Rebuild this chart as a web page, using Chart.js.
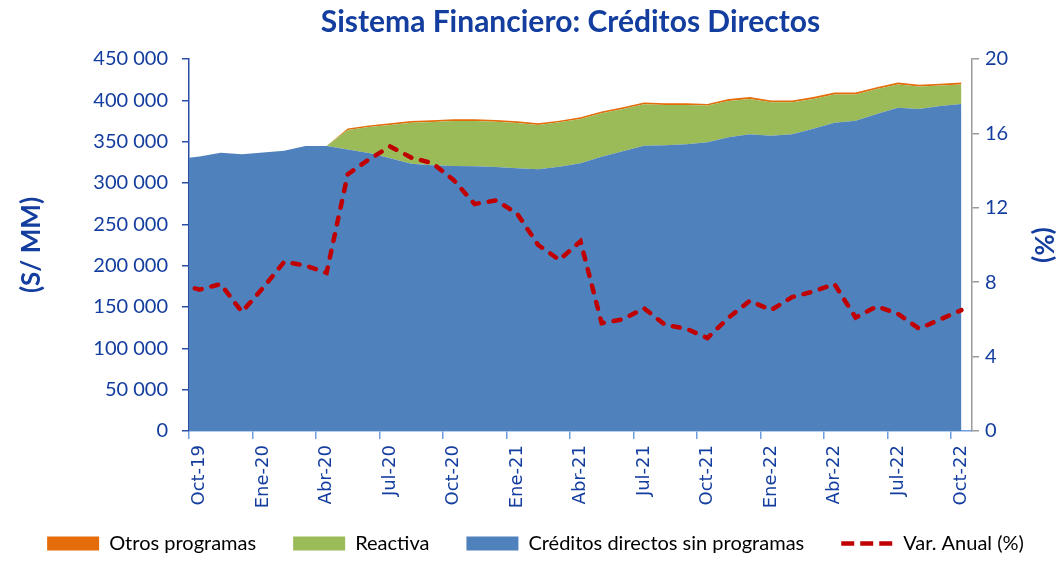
<!DOCTYPE html>
<html>
<head>
<meta charset="utf-8">
<script src="https://cdn.jsdelivr.net/npm/chart.js@4.4.0/dist/chart.umd.min.js"></script>
<style>
  html, body { margin: 0; padding: 0; background: #ffffff; }
  #wrap { width: 1063px; height: 572px; position: relative; }
</style>
</head>
<body>
<div id="wrap"><canvas id="c" width="1063" height="572"></canvas></div>
<script>
// ---- Data (S/ MM and %) ----
const months = ['Sep-19',
  'Oct-19','Nov-19','Dic-19','Ene-20','Feb-20','Mar-20','Abr-20','May-20','Jun-20','Jul-20','Ago-20','Sep-20',
  'Oct-20','Nov-20','Dic-20','Ene-21','Feb-21','Mar-21','Abr-21','May-21','Jun-21','Jul-21','Ago-21','Sep-21',
  'Oct-21','Nov-21','Dic-21','Ene-22','Feb-22','Mar-22','Abr-22','May-22','Jun-22','Jul-22','Ago-22','Sep-22',
  'Oct-22'];

const creditosSinProgramas = [329000,
  332000, 336500, 334700, 336900, 339000, 344800, 344800, 340500, 336300, 329900, 323400, 321400,
  320600, 320200, 319400, 317800, 316600, 319700, 323800, 331800, 338400, 345100, 345600, 346800,
  349200, 355300, 358900, 357200, 358900, 365700, 373000, 375400, 383500, 391100, 389500, 393200,
  395600];

const reactiva = [0,
  0, 0, 0, 0, 0, 0, 0, 23700, 31500, 40300, 49600, 52500,
  54500, 54900, 54800, 54800, 53600, 53700, 53700, 52500, 51200, 50100, 48800, 47600,
  44400, 44000, 42800, 40400, 38700, 36000, 34200, 31800, 30200, 28200, 27100, 24600,
  23700];

const otrosProgramas = [0,
  0, 0, 0, 0, 0, 0, 0, 1800, 1900, 2000, 2000, 2000,
  2000, 2000, 2000, 2000, 2000, 2000, 2000, 2100, 2100, 2100, 2100, 2100,
  2100, 2200, 2200, 2200, 2200, 2200, 2200, 2200, 2200, 2200, 2200, 2200,
  2200];

const varAnual = [7.9,
  7.6, 7.9, 6.4, 7.7, 9.1, 8.9, 8.5, 13.8, 14.6, 15.3, 14.7, 14.4,
  13.5, 12.2, 12.4, 11.7, 10.0, 9.2, 10.2, 5.8, 6.0, 6.6, 5.7, 5.5,
  5.0, 6.1, 7.0, 6.5, 7.2, 7.5, 7.9, 6.1, 6.7, 6.3, 5.5, 6.0,
  6.5];

const xTickLabels = ['Oct-19','Ene-20','Abr-20','Jul-20','Oct-20','Ene-21','Abr-21','Jul-21','Oct-21','Ene-22','Abr-22','Jul-22','Oct-22'];
const seriesNames = ['Otros programas', 'Reactiva', 'Créditos directos sin programas', 'Var. Anual (%)'];

// ---- Styles ----
const TXT = '#133d9e';
const C_BLUE = '#4f81bd', C_GREEN = '#9bbb59', C_ORANGE = '#e46c0a', C_RED = '#c00000';

// x position: Oct-19 = 0 (Sep-19 = -1, partially before the axis start)
const toPts = arr => arr.map((v, i) => ({ x: i - 1, y: v }));

const fmt = v => String(v).replace(/\B(?=(\d{3})+(?!\d))/g, ' ');

// place the legend row lower than its layout box (box keeps x-axis labels unclipped),
// and centre the title like the reference
const boxPlace = {
  id: 'boxPlace',
  beforeDraw(chart) {
    const lg = chart.legend;
    if (lg) {
      lg.top = 496.5;
      lg.bottom = 572;
      lg.left = 4;
      lg.right = 1067;
    }
    const tb = chart.titleBlock;
    if (tb) {
      tb.left = 169;
      tb.right = 972;
    }
  }
};

const ctx = document.getElementById('c').getContext('2d');
new Chart(ctx, {
  type: 'line',
  plugins: [boxPlace],
  data: {
    datasets: [
      { label: seriesNames[3], data: toPts(varAnual), yAxisID: 'y1', order: 0,
        borderColor: C_RED, borderWidth: 4.5, borderDash: [7, 10], borderCapStyle: 'round',
        pointRadius: 0, fill: false, tension: 0, clip: 0 },
      { label: seriesNames[2], data: toPts(creditosSinProgramas), yAxisID: 'y', order: 1,
        backgroundColor: C_BLUE, borderColor: 'rgba(0,0,0,0)', borderWidth: 1,
        pointRadius: 0, fill: 'origin', tension: 0, stack: 'a' },
      { label: seriesNames[1], data: toPts(reactiva), yAxisID: 'y', order: 1,
        backgroundColor: C_GREEN, borderColor: 'rgba(0,0,0,0)', borderWidth: 1,
        pointRadius: 0, fill: '-1', tension: 0, stack: 'a' },
      { label: seriesNames[0], data: toPts(otrosProgramas), yAxisID: 'y', order: 1,
        backgroundColor: C_ORANGE, borderColor: 'rgba(0,0,0,0)', borderWidth: 1,
        pointRadius: 0, fill: '-1', tension: 0, stack: 'a' }
    ]
  },
  options: {
    responsive: false,
    animation: false,
    events: [],
    layout: { padding: { left: 0, right: 0, top: 0, bottom: 0 } },
    plugins: {
      tooltip: { enabled: false },
      title: {
        display: true,
        fullSize: false,
        text: 'Sistema Financiero: Créditos Directos',
        color: TXT,
        font: { family: 'Lato', size: 30, weight: 'bold' },
        padding: { top: 4, bottom: 19 }
      },
      legend: {
        position: 'bottom',
        maxHeight: 50,
        labels: {
          usePointStyle: true,
          pointStyleWidth: 52,
          boxHeight: 14,
          padding: 37,
          color: TXT,
          font: { family: 'Lato', size: 20 },
          generateLabels: () => [
            { text: seriesNames[0], fillStyle: C_ORANGE, strokeStyle: C_ORANGE, lineWidth: 0, pointStyle: 'rect', hidden: false, datasetIndex: 3 },
            { text: seriesNames[1], fillStyle: C_GREEN, strokeStyle: C_GREEN, lineWidth: 0, pointStyle: 'rect', hidden: false, datasetIndex: 2 },
            { text: seriesNames[2], fillStyle: C_BLUE, strokeStyle: C_BLUE, lineWidth: 0, pointStyle: 'rect', hidden: false, datasetIndex: 1 },
            { text: seriesNames[3], fillStyle: C_RED, strokeStyle: C_RED, lineWidth: 4.5, lineDash: [13, 6], lineCap: 'butt', pointStyle: 'line', hidden: false, datasetIndex: 0 }
          ]
        }
      }
    },
    scales: {
      x: {
        type: 'linear',
        min: -0.5,
        max: 36.5,
        afterFit: s => { s.height = 91; },
        afterBuildTicks: s => { s.ticks = xTickLabels.map((_, k) => ({ value: 3 * k - 0.5 })); },
        border: { display: true, color: '#6d9ee0', width: 1.5 },
        grid: { display: true, drawOnChartArea: false, drawTicks: true, tickLength: 8, color: '#6d9ee0', lineWidth: 1.5 },
        ticks: {
          autoSkip: false,
          minRotation: 90,
          maxRotation: 90,
          labelOffset: 10.6,
          padding: 6,
          color: TXT,
          font: { family: 'DejaVu Sans', size: 18 },
          callback: v => xTickLabels[Math.round((v + 0.5) / 3)]
        }
      },
      y: {
        position: 'left',
        stacked: true,
        min: 0,
        max: 450000,
        afterFit: s => { s.width = 189; },
        border: { display: true, color: '#2a4ea6', width: 1.5 },
        grid: { display: true, drawOnChartArea: false, drawTicks: true, tickLength: 7, color: '#2a4ea6', lineWidth: 1.5 },
        ticks: { stepSize: 50000, padding: 14, color: TXT, font: { family: 'Lato', size: 20 }, callback: v => fmt(v) },
        title: { display: true, text: '(S/ MM)', color: TXT, font: { family: 'Lato', size: 26, weight: 'bold' }, padding: { top: 16, bottom: 0 } }
      },
      y1: {
        position: 'right',
        stacked: false,
        min: 0,
        max: 20,
        afterFit: s => { s.width = 91; },
        border: { display: true, color: '#9a9a9a', width: 1.5 },
        grid: { display: true, drawOnChartArea: false, drawTicks: true, tickLength: 7, color: '#9a9a9a', lineWidth: 1.5 },
        ticks: { stepSize: 4, padding: 6, color: TXT, font: { family: 'Lato', size: 20 } },
        title: { display: true, text: '(%)', color: TXT, font: { family: 'Lato', size: 26, weight: 'bold' }, padding: { top: 4, bottom: 0 } }
      }
    }
  }
});
</script>
</body>
</html>
